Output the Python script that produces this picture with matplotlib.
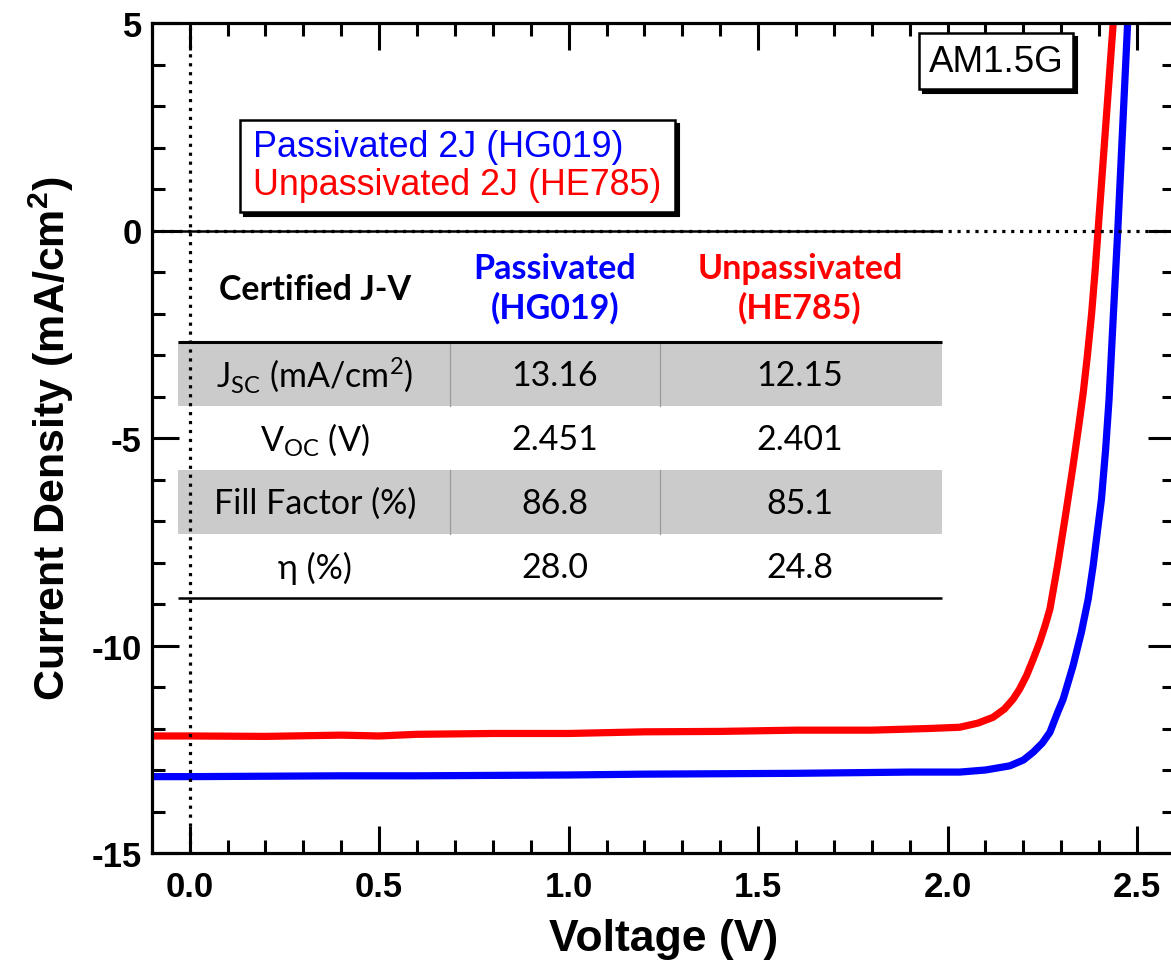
import numpy as np
import matplotlib
matplotlib.use("Agg")
import matplotlib.pyplot as plt
from matplotlib.patches import Rectangle
from matplotlib.transforms import Affine2D
from matplotlib.ticker import MultipleLocator, FormatStrFormatter

# ---- J-V data (voltage in V, current density in mA/cm^2) ----
v_pass = [-0.10, 0.0, 0.2, 0.4, 0.6, 0.8, 1.0, 1.2, 1.4, 1.6, 1.8, 1.9, 2.0,
          2.032, 2.10, 2.164, 2.20, 2.226, 2.25, 2.270, 2.290, 2.305, 2.331,
          2.353, 2.371, 2.384, 2.395, 2.406, 2.417, 2.426, 2.437, 2.449,
          2.462, 2.475, 2.482]
j_pass = [-13.16, -13.16, -13.15, -13.14, -13.14, -13.13, -13.12, -13.10,
          -13.09, -13.08, -13.06, -13.05, -13.05, -13.05, -13.00, -12.90,
          -12.76, -12.57, -12.35, -12.09, -11.62, -11.29, -10.49, -9.68,
          -8.88, -8.08, -7.27, -6.47, -5.27, -4.07, -2.10, 0.0, 2.50, 5.0,
          6.3]

v_unpass = [-0.10, 0.0, 0.2, 0.4, 0.5, 0.6, 0.8, 1.0, 1.2, 1.4, 1.6, 1.8,
            1.95, 2.032, 2.080, 2.120, 2.150, 2.173, 2.190, 2.208, 2.225,
            2.243, 2.258, 2.270, 2.290, 2.311, 2.331, 2.346, 2.358, 2.369,
            2.380, 2.389, 2.397, 2.417, 2.437, 2.445]
j_unpass = [-12.18, -12.18, -12.19, -12.16, -12.18, -12.14, -12.12, -12.12,
            -12.08, -12.07, -12.04, -12.04, -12.00, -11.97, -11.87, -11.73,
            -11.53, -11.29, -11.05, -10.73, -10.35, -9.92, -9.50, -9.12,
            -8.08, -6.87, -5.67, -4.71, -3.90, -3.00, -2.00, -1.00, 0.0,
            2.50, 5.0, 6.0]

series_labels = ["Passivated 2J (HG019)", "Unpassivated 2J (HE785)"]
series_colors = ["#0000ff", "#ff0000"]

# ---- certified J-V table ----
table_header = ["Certified J-V", "Passivated\n(HG019)", "Unpassivated\n(HE785)"]
table_params = [r"J$_{\mathregular{SC}}$ (mA/cm$^{\mathregular{2}}$)",
                r"V$_{\mathregular{OC}}$ (V)",
                "Fill Factor (%)",
                "η (%)"]
passivated_vals = ["13.16", "2.451", "86.8", "28.0"]
unpassivated_vals = ["12.15", "2.401", "85.1", "24.8"]

x_ticks = [0.0, 0.5, 1.0, 1.5, 2.0, 2.5]
y_ticks = [-15, -10, -5, 0, 5]

# ---- figure setup ----
W, H = 1171, 970
plt.rcParams["font.family"] = ["Liberation Sans", "DejaVu Sans"]
plt.rcParams["axes.unicode_minus"] = False
plt.rcParams["mathtext.fontset"] = "custom"
plt.rcParams["mathtext.rm"] = "Liberation Sans"
plt.rcParams["mathtext.bf"] = "Liberation Sans:bold"

fig = plt.figure(figsize=(W / 100, H / 100), dpi=100)
ax_l, ax_r, ax_t, ax_b = 151.7, 1175.0, 24.0, 854.0
ax = fig.add_axes([ax_l / W, (H - ax_b) / H, (ax_r - ax_l) / W, (ax_b - ax_t) / H])

# pixel coordinates (origin at top-left of the figure)
T = Affine2D().scale(1.0 / W, -1.0 / H).translate(0, 1) + fig.transFigure

# reference lines at V=0 and J=0
ax.axvline(0.0, color="black", lw=2.3, ls=(0, (1, 1.8)), zorder=3)
ax.axhline(0.0, color="black", lw=2.3, ls=(0, (1, 1.8)), zorder=3)

# J-V curves
ax.plot(v_pass, j_pass, color=series_colors[0], lw=5.2,
        solid_joinstyle="round", solid_capstyle="round", zorder=2)
ax.plot(v_unpass, j_unpass, color=series_colors[1], lw=5.2,
        solid_joinstyle="round", solid_capstyle="round", zorder=2)

ax.set_xlim(-0.1, 2.6)
ax.set_ylim(-15, 5)

ax.set_xticks(x_ticks)
ax.set_yticks(y_ticks)
ax.xaxis.set_minor_locator(MultipleLocator(0.1))
ax.yaxis.set_minor_locator(MultipleLocator(1))
ax.xaxis.set_major_formatter(FormatStrFormatter("%.1f"))
ax.yaxis.set_major_formatter(FormatStrFormatter("%d"))

for s in ax.spines.values():
    s.set_linewidth(2.3)
ax.tick_params(which="both", direction="in", top=True, right=True, width=2.2)
ax.tick_params(which="major", length=19.5)
ax.tick_params(which="minor", length=9.5)
ax.tick_params(axis="x", which="major", pad=12, labelsize=25)
ax.tick_params(axis="y", which="major", pad=7, labelsize=25)
for lab in ax.get_xticklabels() + ax.get_yticklabels():
    lab.set_fontweight("bold")

ax.set_xlabel("Voltage (V)", fontsize=32, fontweight="bold")
ax.set_ylabel(r"Current Density (mA/cm$^{\mathbf{2}}$)", fontsize=31,
              fontweight="bold")
ax.xaxis.set_label_coords(0.5, -0.078)
ax.yaxis.set_label_coords(-0.074, 0.5)


def shadow_box(x0, y0, x1, y1, off=4, z=4):
    ax.add_patch(Rectangle((x0 + off, y0 + off), x1 - x0, y1 - y0,
                           transform=T, facecolor="black", edgecolor="black",
                           lw=1.5, zorder=z))
    ax.add_patch(Rectangle((x0, y0), x1 - x0, y1 - y0, transform=T,
                           facecolor="white", edgecolor="black", lw=1.8,
                           zorder=z + 0.1))


# legend box
shadow_box(240, 121, 675, 213)
ax.text(253, 157, series_labels[0], transform=T, color=series_colors[0],
        fontsize=25.8, va="baseline", ha="left", zorder=5)
ax.text(253, 195, series_labels[1], transform=T, color=series_colors[1],
        fontsize=25.8, va="baseline", ha="left", zorder=5)

# illumination box
shadow_box(919, 34, 1073, 90)
ax.text(996, 72, "AM1.5G", transform=T, fontsize=26.5, va="baseline",
        ha="center", zorder=5)

# ---- table ----
tfont = ["Lato", "DejaVu Sans"]
tx0, tx1 = 178, 942
col_cx = [315, 555, 800]
col_sep = [450, 660]
row_edges = [343, 407, 471, 535, 599]
grey = "#cbcbcb"

for i in range(len(table_params)):
    top, bot = row_edges[i], row_edges[i + 1]
    if i % 2 == 0:
        ax.add_patch(Rectangle((tx0, top), tx1 - tx0, bot - top, transform=T,
                               facecolor=grey, edgecolor="none", zorder=1))
        for xs in col_sep:
            ax.plot([xs, xs], [top, bot], transform=T, color="#9a9a9a",
                    lw=0.9, zorder=1.2)
    cy = (top + bot) / 2 + 1
    row_text = [table_params[i], passivated_vals[i], unpassivated_vals[i]]
    for cx, s in zip(col_cx, row_text):
        ax.text(cx, cy, s, transform=T, family=tfont, fontsize=24.5,
                ha="center", va="center", zorder=5)

for yl, lw in [(232, 1.8), (343, 2.2), (599, 1.8)]:
    ax.plot([tx0, tx1], [yl, yl], transform=T, color="black", lw=lw,
            zorder=2.6, solid_capstyle="butt")

header_colors = ["black", series_colors[0], series_colors[1]]
header_cy = [290, 289, 289]
for cx, cy, s, c in zip(col_cx, header_cy, table_header, header_colors):
    ax.text(cx, cy, s, transform=T, family=tfont, fontsize=24.5,
            fontweight="bold", color=c, ha="center", va="center",
            linespacing=1.25, zorder=5)

fig.savefig("out.png", dpi=100)
